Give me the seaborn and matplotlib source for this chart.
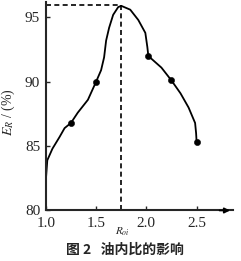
import matplotlib
matplotlib.use("Agg")
import matplotlib.pyplot as plt
import seaborn as sns
import pandas as pd

# marker data
marker_ratio = [1.25, 1.5, 2.02, 2.25, 2.5]
marker_er = [86.8, 90.0, 92.0, 90.1, 85.3]

# traced curve
curve_x = [1.0, 1.015, 1.066, 1.136, 1.187, 1.25, 1.318, 1.419, 1.5, 1.55, 1.58, 1.60,
           1.63, 1.67, 1.72, 1.75, 1.84, 1.92, 1.99, 2.01, 2.02, 2.15, 2.25, 2.34,
           2.42, 2.485, 2.495, 2.5]
curve_y = [82.3, 83.9, 84.8, 85.7, 86.4, 86.8, 87.6, 88.6, 90.0, 90.9, 91.9, 93.2,
           94.2, 95.2, 95.8, 95.9, 95.6, 94.8, 93.8, 92.7, 92.0, 91.1, 90.1, 89.1,
           88.0, 86.8, 86.0, 85.3]

peak_x, peak_y = 1.75, 95.95

x_ticks = [1.0, 1.5, 2.0, 2.5]
x_ticklabels = ["1.0", "1.5", "2.0", "2.5"]
y_ticks = [80, 85, 90, 95]

sns.set_style("ticks")
plt.rcParams['font.family'] = ['Liberation Serif', 'Noto Sans CJK SC', 'DejaVu Sans']
plt.rcParams['mathtext.fontset'] = 'stix'

fig = plt.figure(figsize=(2.41, 2.61), dpi=100)
ax = fig.add_axes([0.19, 0.1935, 0.776, 0.799])

curve = pd.DataFrame({"x": curve_x, "y": curve_y})
pts = pd.DataFrame({"x": marker_ratio, "y": marker_er})
sns.lineplot(data=curve, x="x", y="y", sort=False, color="black", lw=1.3, ax=ax,
             solid_joinstyle="round")
sns.scatterplot(data=pts, x="x", y="y", color="black", s=20, edgecolor="black", zorder=5, ax=ax)

ax.plot([1.0, peak_x], [peak_y, peak_y], ls=(0, (3, 2)), color="black", lw=1.2)
ax.plot([peak_x, peak_x], [80, peak_y], ls=(0, (3, 2)), color="black", lw=1.2)

ax.set_xlim(1.0, 2.86)
ax.set_ylim(80, 96.2)
ax.set_xticks(x_ticks)
ax.set_xticklabels(x_ticklabels, fontsize=11)
ax.set_yticks(y_ticks)
ax.set_yticklabels([str(v) for v in y_ticks], fontsize=11)
ax.tick_params(direction="in", length=3, width=1)
ax.tick_params(axis="x", pad=5)
ax.tick_params(axis="y", pad=4)
sns.despine(ax=ax)
ax.spines['left'].set_linewidth(1.5)
ax.spines['bottom'].set_linewidth(1.5)
ax.annotate("", xy=(2.86, 80), xytext=(2.7, 80),
            arrowprops=dict(arrowstyle="-|>", color="black", lw=1.2, mutation_scale=8))

ax.set_xlabel("")
ax.set_ylabel("")
fig.text(0.035, 0.571, r"$E_R$ / (%)", rotation=90, ha="center", va="center", fontsize=10)
fig.text(0.51, 0.111, r"$R_{oi}$", ha="center", va="center", fontsize=8)
fig.text(0.52, 0.042, "图 2   油内比的影响", ha="center", va="center", fontsize=10,
         fontweight="bold", family=['Noto Sans CJK SC', 'DejaVu Sans'])

fig.savefig("out.png", dpi=100)
